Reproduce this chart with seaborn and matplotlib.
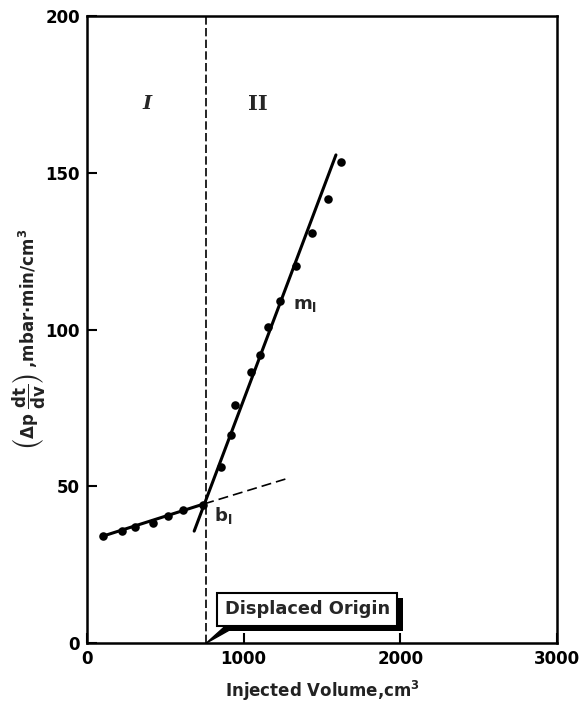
import matplotlib
matplotlib.use("Agg")
import matplotlib.pyplot as plt
import matplotlib.patheffects as pe
import seaborn as sns

# ---- data ----
volume_I = [101, 221, 304, 424, 519, 614, 741]
dpdt_I = [34.1, 35.7, 37.0, 38.3, 40.5, 42.4, 44.0]
volume_II = [854, 918, 943, 1044, 1101, 1158, 1234, 1335, 1437, 1538, 1620]
dpdt_II = [56.1, 66.3, 75.9, 86.4, 91.9, 100.8, 109.1, 120.3, 130.8, 141.6, 153.4]

fit_I_x = [101, 748]
fit_I_y = [34.1, 44.4]
fit_I_ext_x = [748, 1266]
fit_I_ext_y = [44.4, 52.3]
fit_II_x = [684, 1589]
fit_II_y = [35.7, 155.7]
displaced_origin = 762

x_ticks = [0, 1000, 2000, 3000]
y_ticks = [0, 50, 100, 150, 200]

sns.set_theme(style="ticks")
plt.rcParams['font.family'] = ['DejaVu Sans']
plt.rcParams['font.weight'] = 'bold'
plt.rcParams['mathtext.fontset'] = 'dejavusans'
plt.rcParams['mathtext.default'] = 'bf'

fig = plt.figure(figsize=(5.86, 7.04), dpi=100)
ax = fig.add_axes([0.1485, 0.0866, 0.802, 0.8906])

# fitted lines
sns.lineplot(x=fit_I_x, y=fit_I_y, color='black', lw=2.2, sort=False,
             estimator=None, ax=ax)
sns.lineplot(x=fit_II_x, y=fit_II_y, color='black', lw=2.2, sort=False,
             estimator=None, ax=ax)
ext = ax.plot(fit_I_ext_x, fit_I_ext_y, color='black', lw=1.2)[0]
ext.set_dashes((6, 3))
vl = ax.axvline(displaced_origin, color='black', lw=1.2)
vl.set_dashes((5, 2))

# data points
sns.scatterplot(x=volume_I + volume_II, y=dpdt_I + dpdt_II, color='black',
                s=38, edgecolor='black', linewidth=0, ax=ax, zorder=4)

ax.set_xlim(0, 3000)
ax.set_ylim(0, 200)
ax.set_xticks(x_ticks)
ax.set_yticks(y_ticks)
ax.tick_params(direction='in', length=7, width=1.5, labelsize=12, pad=5,
               colors='black')
for lab in ax.get_xticklabels() + ax.get_yticklabels():
    lab.set_fontweight('bold')
for sp in ax.spines.values():
    sp.set_visible(True)
    sp.set_linewidth(1.8)
    sp.set_color('black')

ax.set_xlabel("Injected Volume,cm$^3$", fontsize=12, fontweight='bold',
              labelpad=8, color='#222222')
ax.set_ylabel(r"$\left(\Delta p\ \dfrac{dt}{dv}\right)$ ,mbar$\bullet$min/cm$^3$",
              fontsize=12, fontweight='bold', color='#222222')
ax.yaxis.set_label_coords(-0.083, 0.485)

# region labels
ax.text(386, 172, "I", fontsize=14, fontweight='bold', family='DejaVu Serif',
        style='italic', ha='center', va='center')
ax.text(1089, 172, "II", fontsize=15, fontweight='heavy', family='DejaVu Serif',
        ha='center', va='center')
ax.text(1316, 107.8, r"m$_\mathbf{l}$", fontsize=13, ha='left', va='center')
ax.text(810, 40.8, r"b$_\mathbf{l}$", fontsize=13, ha='left', va='center')

# displaced origin callout
ann = ax.annotate("Displaced Origin", xy=(displaced_origin, 0), xytext=(1405, 10.8),
                  ha='center', va='center', fontsize=12.8, fontweight='bold',
                  bbox=dict(boxstyle='square,pad=0.42', fc='white', ec='black', lw=1.5),
                  arrowprops=dict(arrowstyle='wedge,tail_width=0.35,shrink_factor=0.5',
                                  fc='black', ec='black', relpos=(0.1, 0.0),
                                  shrinkA=0, shrinkB=0),
                  annotation_clip=False, zorder=6)
ann.get_bbox_patch().set_path_effects([
    pe.SimplePatchShadow(offset=(4, -4), shadow_rgbFace='black', alpha=1),
    pe.Normal()])

fig.savefig("out.png", dpi=100)
